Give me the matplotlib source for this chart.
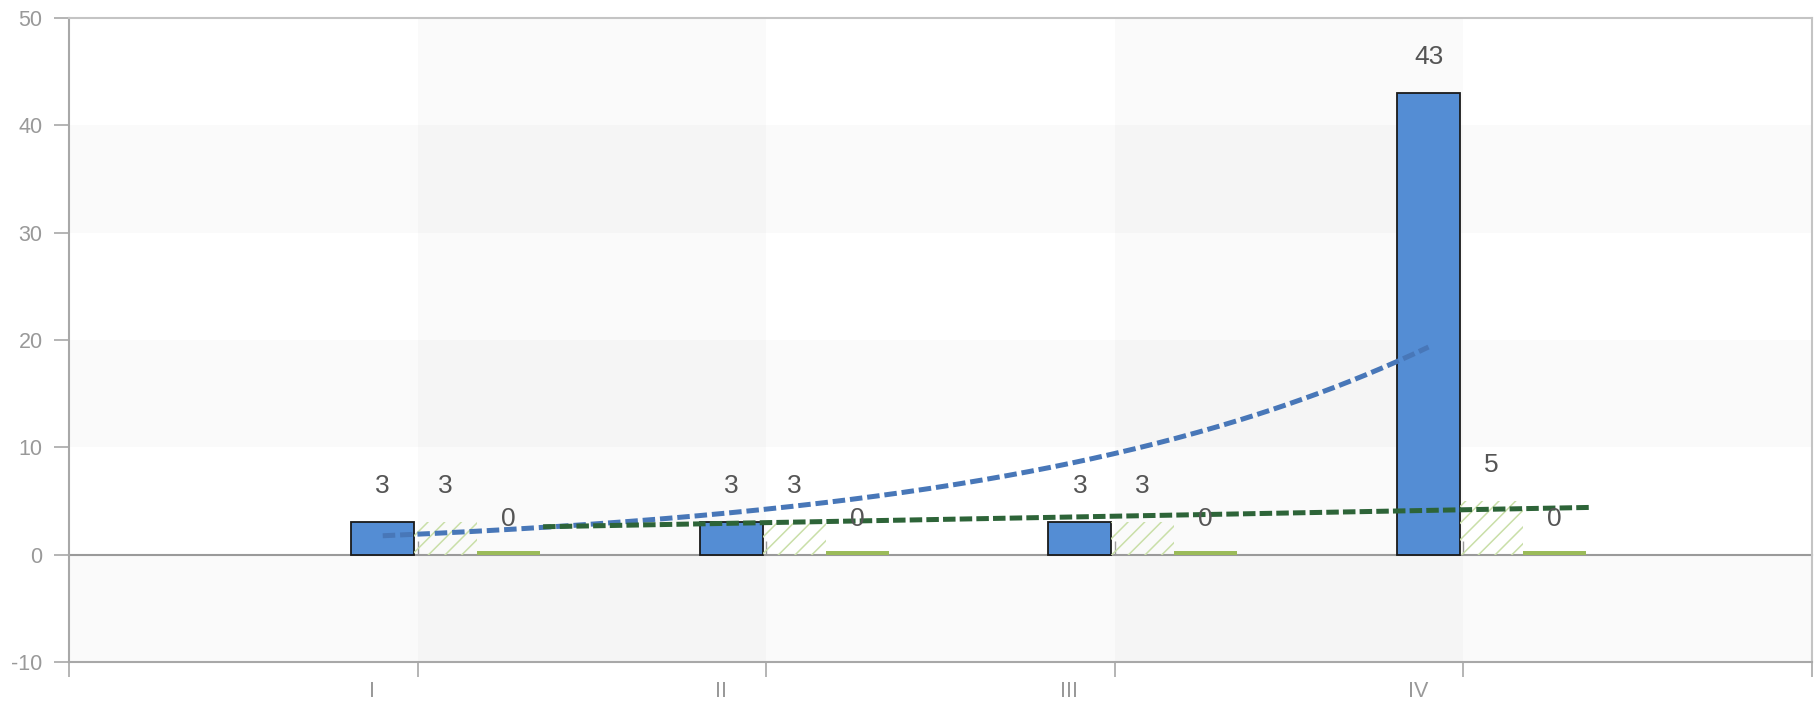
import numpy as np
import matplotlib.pyplot as plt

plt.rcParams['font.family'] = ['Liberation Sans', 'DejaVu Sans']
plt.rcParams['lines.scale_dashes'] = False
plt.rcParams['hatch.linewidth'] = 1.1

# ---- data ----
categories = ["I", "II", "III", "IV"]
blue_vals = [3, 3, 3, 43]
hatch_vals = [3, 3, 3, 5]
green_vals = [0, 0, 0, 0]

y_ticks = [-10, 0, 10, 20, 30, 40, 50]

idx = np.arange(1, len(categories) + 1)
width = 0.181

fig = plt.figure(figsize=(18.18, 7.07), dpi=100)
ax = fig.add_axes([69 / 1818, 1 - 662 / 707, 1743 / 1818, 644 / 707])
ax.set_xlim(0, 5)
ax.set_ylim(-10, 50)

# alternating background bands
for lo in (-10, 10, 30):
    ax.axhspan(lo, lo + 10, color="black", alpha=0.02, lw=0, zorder=0)
for lo in (1, 3):
    ax.axvspan(lo, lo + 1, color="black", alpha=0.02, lw=0, zorder=0)

# bars
ax.bar(idx - 0.100, blue_vals, width, color="#548dd4", edgecolor="#1a1a1a",
       linewidth=1.3, zorder=2)
ax.bar(idx + 0.080, hatch_vals, width, facecolor="none", edgecolor="#c9dfa8",
       linewidth=0, hatch="//", zorder=2)
# zero values still shown as a thin sliver
green_show = [max(v, 0.3) for v in green_vals]
ax.bar(idx + 0.261, green_show, width, color="#9bbb59", linewidth=0, zorder=2)

# value labels
for offs, vals in ((-0.100, blue_vals), (0.080, hatch_vals), (0.261, green_vals)):
    for x, v in zip(idx + offs, vals):
        ax.annotate(str(v), (x, v), xytext=(0, 26), textcoords="offset points",
                    ha="center", va="center", fontsize=19, color="#555555",
                    zorder=5)

# exponential trend of the blue series
b, a = np.polyfit(idx, np.log(blue_vals), 1)
xs = np.linspace(idx[0], idx[-1], 200)
ax.plot(xs - 0.100, np.exp(a + b * xs), color="#4877b8", lw=3.6,
        linestyle=(0, (9, 3.5)), zorder=4)

# linear trend of the hatched series
m, c = np.polyfit(idx, hatch_vals, 1)
xe = np.array([idx[0], idx[-1]], dtype=float)
ax.plot(xe + 0.36, m * xe + c, color="#2d6438", lw=3.6,
        linestyle=(0, (9, 3)), zorder=4)

# spines and ticks
for s in ("left", "bottom"):
    ax.spines[s].set_color("#a8a8a8")
    ax.spines[s].set_linewidth(1.5)
for s in ("top", "right"):
    ax.spines[s].set_color("#c4c4c4")
    ax.spines[s].set_linewidth(1.5)

ax.set_yticks(y_ticks)
ax.set_yticklabels([str(t) for t in y_ticks])
ax.tick_params(axis="y", length=11, width=1.2, color="#a8a8a8", pad=8,
               labelsize=15.5, labelcolor="#999999")
ax.set_xticks(range(0, 6))
ax.set_xticklabels([])
ax.set_xticks(idx - 0.13, minor=True)
ax.set_xticklabels(categories, minor=True)
ax.tick_params(axis="x", which="major", length=11, width=1.2, color="#a8a8a8")
ax.tick_params(axis="x", which="minor", length=0, pad=14, labelsize=15.5,
               labelcolor="#999999")

# zero line with small inward ticks
zero = ax.secondary_xaxis(10 / 60)
zero.spines["bottom"].set_color("#9a9a9a")
zero.spines["bottom"].set_linewidth(1.5)
zero.set_xticks(range(1, 5))
zero.tick_params(direction="in", length=10, width=1.0, color="#9a9a9a",
                 labelbottom=False)

plt.savefig("out.png", dpi=100)
